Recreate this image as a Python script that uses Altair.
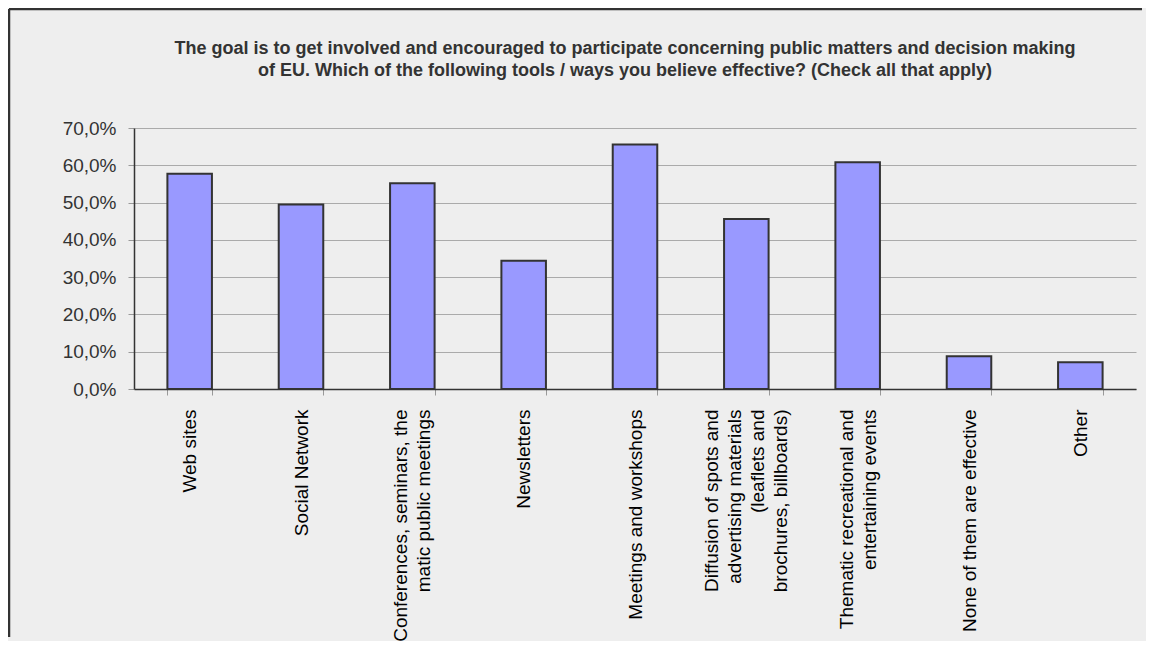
import altair as alt
import pandas as pd

categories = [
    "Web sites",
    "Social Network",
    "Conferences, seminars, the|matic public meetings",
    "Newsletters",
    "Meetings and workshops",
    "Diffusion of spots and|advertising materials|(leaflets and|brochures, billboards)",
    "Thematic recreational and|entertaining events",
    "None of them are effective",
    "Other",
]
values = [57.7, 49.5, 55.2, 34.4, 65.6, 45.6, 60.8, 8.8, 7.2]
y_ticks = [0, 10, 20, 30, 40, 50, 60, 70]

title_lines = [
    "The goal is to get involved and encouraged to participate concerning public matters and decision making",
    "of EU. Which of the following tools / ways you believe effective? (Check all that apply)",
]

df = pd.DataFrame({"category": categories, "value": values})

W, H = 1002, 261
PAD_L, PAD_T, PAD_R, PAD_B = 126, 120, 10, 252
LH = 23

bars = alt.Chart(df).mark_bar(
    color="#9999FF", stroke="#333333", strokeWidth=2
).encode(
    x=alt.X(
        "category:N",
        sort=categories,
        scale=alt.Scale(paddingInner=0.6, paddingOuter=0.3),
        axis=alt.Axis(
            title=None,
            labelAngle=-90,
            labelAlign="right",
            labelBaseline="middle",
            labelExpr="split(datum.label, '|')",
            labelOffset={
                "condition": [
                    {"test": "length(split(datum.label, '|')) == 4", "value": -1.5 * LH},
                    {"test": "length(split(datum.label, '|')) == 2", "value": -0.5 * LH},
                ],
                "value": 0,
            },
            labelFont="Liberation Sans",
            labelFontSize=19,
            labelLineHeight=LH,
            labelColor="#000000",
            labelPadding=14,
            labelLimit=400,
            tickBand="extent",
            tickColor="#999999",
            tickSize=6,
            domainColor="#333333",
            domainWidth=1.5,
            grid=False,
        ),
    ),
    y=alt.Y(
        "value:Q",
        scale=alt.Scale(domain=[0, 70], nice=False),
        axis=alt.Axis(
            title=None,
            values=y_ticks,
            labelExpr="replace(format(datum.value, '.1f'), '.', ',') + '%'",
            labelFont="Liberation Sans",
            labelFontSize=19,
            labelColor="#333333",
            labelPadding=12,
            tickColor="#999999",
            tickSize=6,
            domainColor="#333333",
            domainWidth=1.5,
            grid=True,
            gridColor="#AAAAAA",
            gridWidth=1,
        ),
    ),
)

one = pd.DataFrame({"k": [0]})
frame_top = alt.Chart(one).mark_rule(color="#333333", strokeWidth=2.5).encode(
    x=alt.value(-125), x2=alt.value(W + PAD_R - 4), y=alt.value(-119)
)
frame_left = alt.Chart(one).mark_rule(color="#333333", strokeWidth=2.5).encode(
    x=alt.value(-125), y=alt.value(-119), y2=alt.value(H + PAD_B - 4)
)
title = alt.Chart(one).mark_text(
    font="Liberation Sans",
    fontSize=18,
    fontWeight="bold",
    color="#333333",
    align="center",
    baseline="alphabetic",
    lineHeight=22,
).encode(
    x=alt.value(W / 2 - 10),
    y=alt.value(-74),
    text=alt.value(title_lines),
)

chart = alt.layer(bars, frame_top, frame_left, title).properties(
    width=W,
    height=H,
    background="#EEEEEE",
    padding={"left": PAD_L, "top": PAD_T, "right": PAD_R, "bottom": PAD_B},
    autosize=alt.AutoSizeParams(type="none"),
).configure_view(stroke=None)

chart.save("out.html", embed_options={"renderer": "svg", "actions": False})
